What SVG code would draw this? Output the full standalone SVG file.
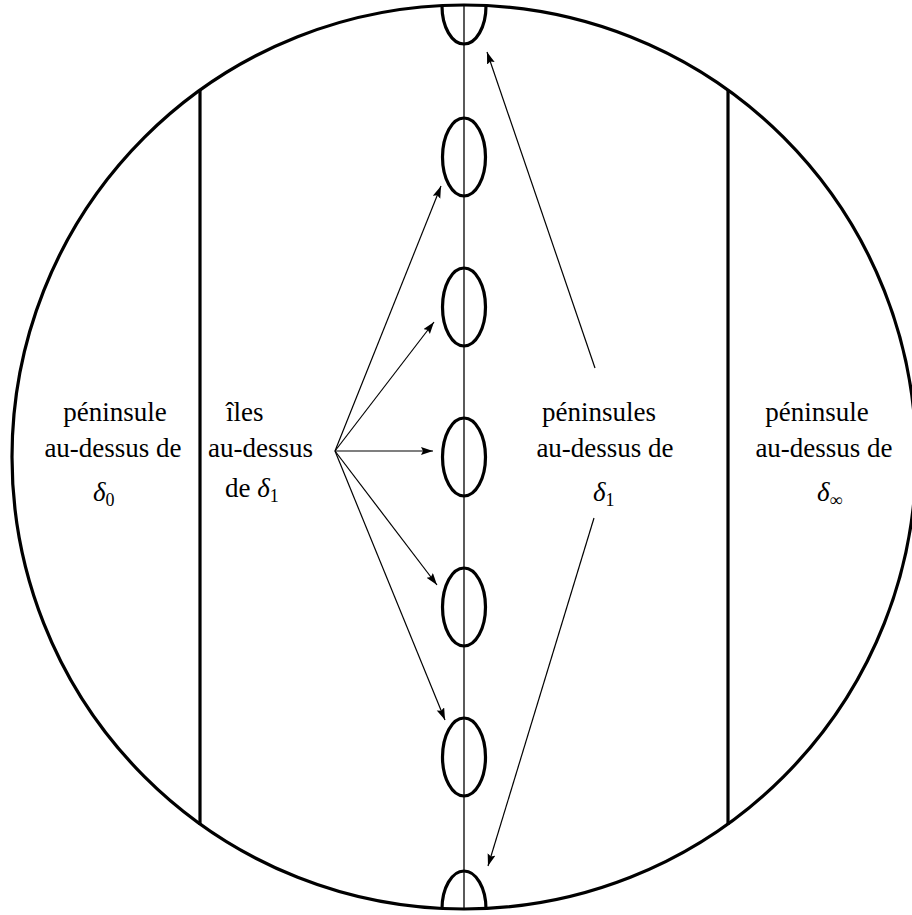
<svg xmlns="http://www.w3.org/2000/svg" width="912" height="915" viewBox="0 0 912 915">
<style>
.thick{fill:none;stroke:#000;stroke-width:3.2}
.thin{fill:none;stroke:#000;stroke-width:1.3}
.arr{fill:none;stroke:#000;stroke-width:1.2;marker-end:url(#ah)}
text{font-family:"Liberation Serif","DejaVu Serif",serif;font-size:27px;fill:#000}
.m{font-style:italic}
.s{font-size:18px;font-style:normal}
</style>
<defs>
<marker id="ah" markerUnits="userSpaceOnUse" markerWidth="14" markerHeight="10" refX="12" refY="4" orient="auto">
<path d="M0,0 L12,4 L0,8 L2,4 z" fill="#000"/>
</marker>
<clipPath id="cc"><circle cx="464" cy="457" r="452"/></clipPath>
</defs>
<rect width="912" height="915" fill="#fff"/>
<g id="disk">
<circle class="thick" cx="464" cy="457" r="452"/>
</g>
<g id="bounds">
<line class="thick" x1="200" y1="90" x2="200" y2="825"/>
<line class="thick" x1="728" y1="90" x2="728" y2="825"/>
<line class="thin" x1="464" y1="5" x2="464" y2="909"/>
</g>
<g id="islands">
<g clip-path="url(#cc)"><ellipse class="thick" cx="464" cy="6" rx="22" ry="38"/><ellipse class="thick" cx="464" cy="909" rx="22" ry="38"/></g>
<ellipse class="thick" cx="464" cy="157" rx="21.5" ry="39"/>
<ellipse class="thick" cx="464" cy="307" rx="21.5" ry="39"/>
<ellipse class="thick" cx="464" cy="457" rx="21.5" ry="39"/>
<ellipse class="thick" cx="464" cy="607" rx="21.5" ry="39"/>
<ellipse class="thick" cx="464" cy="757" rx="21.5" ry="39"/>
</g>
<g id="connectors">
<line class="arr" x1="335" y1="451" x2="441" y2="186"/>
<line class="arr" x1="335" y1="451" x2="434" y2="322"/>
<line class="arr" x1="335" y1="451" x2="433" y2="451"/>
<line class="arr" x1="335" y1="451" x2="437" y2="585"/>
<line class="arr" x1="335" y1="451" x2="445" y2="720"/>
<line class="arr" x1="595" y1="368" x2="487" y2="52"/>
<line class="arr" x1="594" y1="518" x2="488" y2="866"/>
</g>
<g id="label-delta0">
<text x="115" y="421" text-anchor="middle">péninsule</text>
<text x="113" y="457" text-anchor="middle">au-dessus de</text>
<text x="93" y="501"><tspan class="m">δ</tspan><tspan class="s" dy="5">0</tspan></text>
</g>
<g id="label-iles">
<text x="226" y="421">îles</text>
<text x="208" y="457">au-dessus</text>
<text x="225" y="497">de <tspan class="m">δ</tspan><tspan class="s" dy="5">1</tspan></text>
</g>
<g id="label-delta1">
<text x="599" y="421" text-anchor="middle">péninsules</text>
<text x="605" y="457" text-anchor="middle">au-dessus de</text>
<text x="593" y="501"><tspan class="m">δ</tspan><tspan class="s" dy="5">1</tspan></text>
</g>
<g id="label-deltainf">
<text x="817" y="421" text-anchor="middle">péninsule</text>
<text x="824" y="457" text-anchor="middle">au-dessus de</text>
<text x="817" y="501"><tspan class="m">δ</tspan><tspan class="s" dy="5">∞</tspan></text>
</g>
</svg>
